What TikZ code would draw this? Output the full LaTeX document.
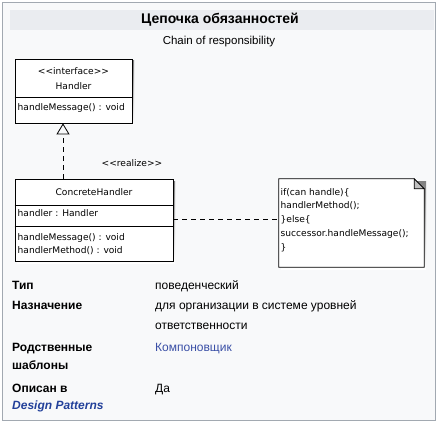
\documentclass[tikz,border=0pt]{standalone}
\usepackage{fontspec}
\setmainfont{Liberation Sans}
\newfontfamily\umlfont[Ligatures=TeXOff]{DejaVu Sans}
\usepackage{tikz}
\usetikzlibrary{arrows.meta}

\definecolor{boxbg}{HTML}{F8F9FA}
\definecolor{boxline}{HTML}{A2A9B1}
\definecolor{headbg}{HTML}{EAECF0}
\definecolor{linkblue}{HTML}{3A4FA6}
\definecolor{darkblue}{HTML}{22409A}
\definecolor{shade}{HTML}{CFCFCF}

\tikzset{
  umlbox/.style={draw=black, fill=white, line width=0.8pt, inner sep=0pt},
  umltext/.style={font=\umlfont\fontsize{9.1}{11}\selectfont, inner sep=0pt},
  rowhead/.style={font=\fontsize{12}{18}\selectfont\bfseries, anchor=base west, align=left, inner sep=0pt},
  rowval/.style={font=\fontsize{12}{20}\selectfont, anchor=base west, align=left, inner sep=0pt},
  linkdash/.style={line width=0.8pt, dash pattern=on 5pt off 4pt}
}

\begin{document}
\begin{tikzpicture}[x=1pt,y=-1pt]
\useasboundingbox (0,0) rectangle (439,425);
\draw[boxline, fill=boxbg] (2.5,2.5) rectangle (435.5,420.5);
\fill[headbg] (10,10) rectangle (434,30);
\node[font=\fontsize{14}{16}\selectfont\bfseries] (title) at (220,20) {Цепочка обязанностей};
\node[font=\fontsize{11.5}{14}\selectfont] (subtitle) at (219,42) {Chain of responsibility};

% shadows
\fill[shade] (17,61) rectangle (134,125);
\fill[shade] (17,181) rectangle (175,263);
\fill[shade] (281,181) rectangle (426,269);

% Handler
\node[umlbox, minimum width=117pt, minimum height=64pt] (handler) at (73.5,91) {};
\draw[line width=0.8pt] (handler.west |- 0,97) -- (handler.east |- 0,97);
\node[umltext] (stereo) at (73.5,71) {<<interface>>};
\node[umltext] (hname) at (73.5,86) {Handler};
\node[umltext, anchor=west] (hop) at (17.5,108) {handleMessage() : void};

% ConcreteHandler
\node[umlbox, minimum width=158pt, minimum height=82pt] (concrete) at (94,220) {};
\draw[line width=0.8pt] (concrete.west |- 0,205) -- (concrete.east |- 0,205);
\draw[line width=0.8pt] (concrete.west |- 0,226) -- (concrete.east |- 0,226);
\node[umltext] (cname) at (94,192) {ConcreteHandler};
\node[umltext, anchor=west] (cattr) at (17.5,213) {handler : Handler};
\node[umltext, anchor=west] (cop1) at (17.5,238) {handleMessage() : void};
\node[umltext, anchor=west] (cop2) at (17.5,250.5) {handlerMethod() : void};

% realize
\draw[linkdash, -{Triangle[open, width=13pt, length=11pt, line width=0.8pt]}]
  (concrete.north -| 63,0) -- (handler.south -| 63,0);
\node[umltext] (realize) at (132,163) {<<realize>>};

% note
\node[minimum width=145pt, minimum height=88pt, inner sep=0pt] (note) at (351.5,223) {};
\draw[line width=0.8pt, fill=white] (note.north west) -- ([xshift=-10pt]note.north east)
  -- ([yshift=-10pt]note.north east) -- (note.south east) -- (note.south west) -- cycle;
\draw[line width=0.8pt, fill=shade!80!black!70] ([xshift=-10pt]note.north east)
  -- ([xshift=-10pt,yshift=-10pt]note.north east) -- ([yshift=-10pt]note.north east) -- cycle;
\node[umltext, anchor=north west, align=left, font=\umlfont\fontsize{9.1}{13.8}\selectfont] (code) at (280.5,188)
  {if(can handle)\{\\handlerMethod();\\\}else\{\\successor.handleMessage();\\\}};
\draw[linkdash] (concrete.east |- 0,219.5) -- (note.west |- 0,219.5);

% table
\node[rowhead] (r1) at (12,289) {Тип};
\node[rowval] (v1) at (155,289) {поведенческий};
\node[rowhead] (r2) at (12,309) {Назначение};
\node[rowval] (v2) at (155,329) {для организации в системе уровней\\ответственности};
\node[rowhead] (r3) at (12,369.5) {Родственные\\шаблоны};
\node[rowval, text=linkblue] (v3) at (155,351.5) {Компоновщик};
\node[rowhead, font=\fontsize{12}{17}\selectfont\bfseries] (r4) at (12,409.5) {Описан в\\{\color{darkblue}\itshape Design Patterns}};
\node[rowval] (v4) at (155,392.5) {Да};
\end{tikzpicture}
\end{document}
